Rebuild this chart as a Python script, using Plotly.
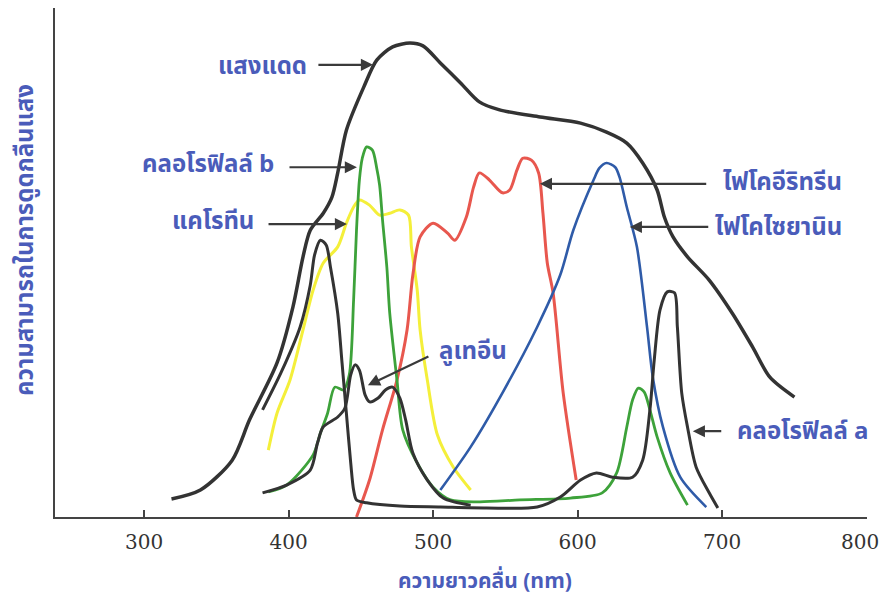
import plotly.graph_objects as go

# ---------------- data (wavelength nm, relative absorption %) ----------------
sun_x = [319, 339, 361, 373, 392, 403, 410, 415, 424, 430, 434, 440, 452, 461, 472, 484, 493,
         505, 519, 532, 546, 574, 602, 620, 634, 645, 655, 660, 666, 676, 691, 707, 721, 733, 750]
sun_y = [3.8, 5.7, 12.0, 20.5, 32.5, 44.3, 54.9, 60.5, 64.1, 67.5, 72.6, 81.6, 90.7, 96.4, 99.2, 100, 99.4,
         95.8, 91.6, 87.6, 85.9, 84.4, 83.1, 81.2, 78.9, 74.7, 69.0, 63.3, 59.1, 54.9, 50.0, 43.0, 35.9, 29.5, 25.3]

chlb_x = [386, 399, 417, 422, 427, 432, 438, 442, 445, 447, 449, 451, 454, 458, 461, 463, 465, 468, 470,
          475, 479, 489, 500, 512, 532, 560, 595, 617, 627, 634, 638, 642, 646, 650, 655, 664, 676]
chlb_y = [5.3, 6.8, 13.1, 17.7, 21.9, 27.4, 26.8, 30.0, 45.8, 60.5, 71.1, 75.7, 78.1, 77.4, 73.6, 70.0, 62.7,
          52.7, 43.0, 28.9, 18.4, 11.4, 6.3, 3.6, 3.2, 3.6, 4.0, 5.1, 9.3, 19.0, 24.7, 27.2, 26.4, 22.6, 16.9, 9.3, 2.5]

chla_x = [382, 395, 408, 415, 418, 422, 426, 429, 434, 437, 440, 443, 445, 447, 454, 477, 505, 537, 572,
          588, 602, 613, 624, 638, 645, 650, 653, 657, 662, 667, 669, 672, 676, 682, 691, 697]
chla_y = [22.6, 30.6, 40.1, 48.9, 55.3, 58.4, 57.4, 52.7, 43.0, 32.5, 21.9, 11.4, 5.7, 3.6, 3.0, 2.3, 2.1, 1.9, 2.1,
          4.2, 7.8, 9.3, 8.4, 8.4, 12.0, 22.6, 33.1, 43.7, 47.5, 47.3, 40.1, 26.2, 19.0, 10.5, 5.1, 1.9]

lut_x = [382, 399, 415, 420, 424, 434, 439, 443, 446, 449, 453, 456, 462, 467, 472, 477, 481, 486, 496, 507, 526]
lut_y = [5.1, 6.8, 9.9, 15.6, 19.0, 21.1, 23.0, 30.0, 32.1, 31.0, 25.7, 24.3, 25.1, 26.8, 27.4, 25.1, 20.5,
         13.5, 7.8, 4.0, 2.5]

car_x = [386, 392, 401, 410, 417, 424, 434, 440, 445, 449, 456, 463, 470, 477, 483, 485, 489, 491, 496, 503, 514, 526]
car_y = [14.1, 21.9, 28.9, 39.5, 47.9, 53.6, 57.0, 62.0, 65.4, 66.9, 65.8, 63.7, 64.1, 64.8, 63.7, 57.0,
         47.9, 39.5, 28.9, 17.3, 10.5, 5.7]

phe_x = [447, 456, 465, 475, 482, 486, 491, 500, 510, 515, 523, 528, 532, 539, 548, 553, 558, 562, 568,
         573, 576, 579, 583, 590, 599]
phe_y = [0.0, 7.8, 18.4, 28.9, 39.5, 51.1, 59.1, 62.0, 59.9, 58.4, 63.3, 69.6, 72.6, 71.1, 68.4, 69.0, 73.2,
         75.7, 75.3, 72.6, 64.1, 53.6, 47.3, 26.2, 7.8]

phc_x = [505, 526, 548, 572, 588, 597, 611, 615, 620, 626, 629, 634, 641, 648, 652, 659, 671, 689]
phc_y = [5.7, 14.8, 26.2, 40.1, 51.1, 60.5, 71.1, 73.6, 74.7, 73.8, 71.7, 65.4, 57.0, 40.1, 29.5, 19.0, 8.4, 2.1]

tick_vals = [300, 400, 500, 600, 700, 800]
tick_text = ["300", "400", "500", "600", "700", "800"]

x_title = "ความยาวคลื่น (nm)"
y_title = "ความสามารถในการดูดกลืนแสง"

# ---------------- styling ----------------
THAI = "Noto Sans Thai, Noto Sans Thai Looped, Loma, Garuda, Tlwg Typo, Norasi, sans-serif"
LBL = "#4a5cba"
ARW = "#3a3a3a"
TICKFONT = dict(family="DejaVu Serif, serif", size=20, color="#333")

fig = go.Figure()

def add(x, y, color, width):
    fig.add_trace(go.Scatter(x=x, y=y, mode="lines",
                             line=dict(color=color, width=width, shape="spline", smoothing=0.8),
                             hoverinfo="skip", showlegend=False))

add(car_x, car_y, "#f4ef3a", 3)
add(phe_x, phe_y, "#e8574e", 3)
add(phc_x, phc_y, "#2f5ba8", 2.6)
add(chlb_x, chlb_y, "#3da23a", 2.8)
add(lut_x, lut_y, "#333333", 3)
add(chla_x, chla_y, "#333333", 3)
add(sun_x, sun_y, "#333333", 3.5)

# arrows (head x,y ; tail ax,ay in data units)
arrows = [
    (458.4, 95.4, 419.6, 95.4),
    (447.3, 73.8, 399.6, 73.8),
    (440.4, 61.8, 385.1, 61.8),
    (454.9, 27.8, 497.8, 34.0),
    (573.9, 70.3, 690.0, 70.3),
    (636.1, 61.2, 691.4, 61.2),
    (679.7, 18.1, 700.4, 18.1),
]
for hx, hy, tx, ty in arrows:
    fig.add_annotation(x=hx, y=hy, ax=tx, ay=ty, xref="x", yref="y", axref="x", ayref="y",
                       text="", showarrow=True, arrowhead=2, arrowsize=1.1, arrowwidth=2.2,
                       arrowcolor=ARW, standoff=0, startstandoff=0)

labels = [
    ("แสงแดด", 414.1, 94.9, "right"),
    ("คลอโรฟิลล์ b", 391.3, 74.3, "right"),
    ("แคโรทีน", 377.5, 62.2, "right"),
    ("ลูเทอีน", 502.6, 34.8, "left"),
    ("ไฟโคอีริทรีน", 699.0, 70.5, "left"),
    ("ไฟโคไซยานิน", 693.5, 61.0, "left"),
    ("คลอโรฟิลล์ a", 708.7, 17.9, "left"),
]
for t, x, y, anc in labels:
    fig.add_annotation(x=x, y=y, xref="x", yref="y", text="<b>%s</b>" % t, showarrow=False,
                       xanchor=anc, yanchor="middle",
                       font=dict(family=THAI, size=24, color=LBL))

# last tick label placed by hand so it stays inside the picture
fig.add_annotation(x=tick_vals[-1], y=0, xref="x", yref="y", text=tick_text[-1], showarrow=False,
                   xanchor="right", yanchor="top", xshift=14, yshift=-11, font=TICKFONT)

fig.add_annotation(x=0.5296, y=-0.1277, xref="paper", yref="paper", text="<b>%s</b>" % x_title,
                   showarrow=False, xanchor="center", yanchor="middle",
                   font=dict(family=THAI, size=21, color=LBL))
fig.add_annotation(x=-0.0357, y=0.544, xref="paper", yref="paper", text="<b>%s</b>" % y_title,
                   showarrow=False, textangle=-90, xanchor="center", yanchor="middle",
                   font=dict(family=THAI, size=24, color=LBL))

fig.update_layout(
    width=884, height=598,
    margin=dict(l=55, r=17, t=8, b=81, autoexpand=False),
    paper_bgcolor="white", plot_bgcolor="white",
    xaxis=dict(range=[238.4, 800.2], tickvals=tick_vals, ticktext=tick_text[:-1] + [""], automargin=False,
               showgrid=False, zeroline=False, showline=True, linecolor="#444", linewidth=1.6,
               ticks="inside", ticklen=7, tickwidth=1.6, tickcolor="#444",
               ticklabelstandoff=6, tickfont=TICKFONT),
    yaxis=dict(range=[0, 107.4], showgrid=False, zeroline=False, showline=True, automargin=False,
               linecolor="#444", linewidth=1.6, showticklabels=False, ticks=""),
)

fig.write_html("out.html", config={"displayModeBar": False},
               post_script="document.body.style.margin='0';document.body.style.overflow='hidden';")
